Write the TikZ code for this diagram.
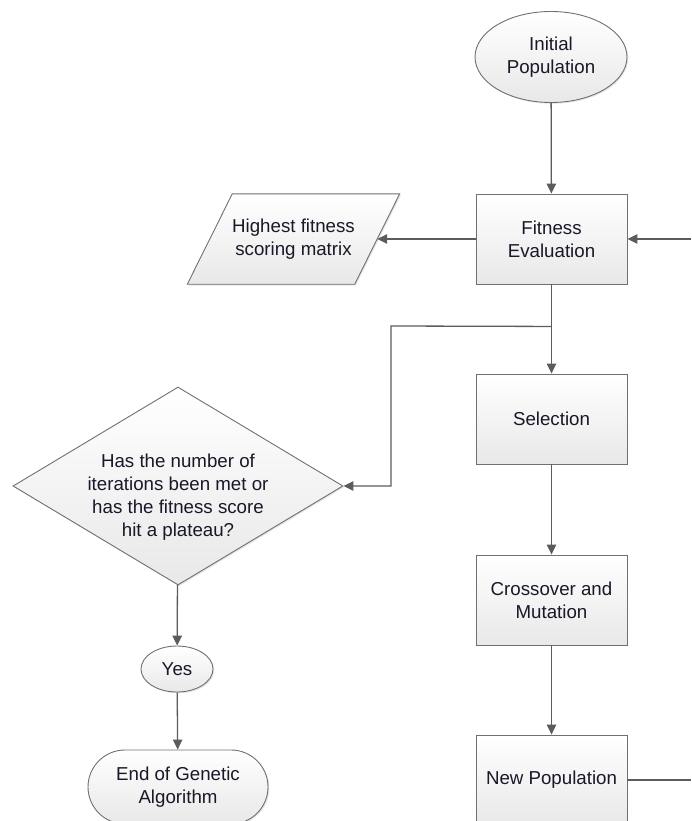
\documentclass[tikz,border=0pt]{standalone}
\usepackage{fontspec}
\setmainfont{Liberation Sans}
\usetikzlibrary{shapes.geometric,arrows.meta,shadows,backgrounds,calc}
\definecolor{edgegray}{RGB}{112,112,112}
\definecolor{linegray}{RGB}{92,92,92}
\definecolor{txt}{RGB}{24,24,40}
\tikzset{
  lbl/.style={text=txt, font=\fontsize{18.7}{23}\selectfont, align=center},
  base/.style={lbl, draw=edgegray, line width=0.9pt, top color=white, bottom color=black!9,
    inner sep=0pt, drop shadow={shadow xshift=1.3pt, shadow yshift=-1.3pt, opacity=0.2}},
  procbox/.style={base, rectangle, minimum width=151pt, minimum height=90pt},
  oval/.style={base, ellipse},
  flow/.style={draw=linegray, line width=1.3pt, -{Triangle[length=10pt,width=9.5pt]}},
  plain/.style={draw=linegray, line width=1.3pt},
}
\begin{document}
\begin{tikzpicture}[x=1pt,y=-1pt]
\path[use as bounding box] (0,0) rectangle (691,821);
\clip (0,0) rectangle (691,821);

% main loop column
\node[oval, minimum width=152pt, minimum height=91pt] (init) at (551,57) {Initial\\Population};
\node[procbox] (fit) at (551.5,239) {Fitness\\Evaluation};
\node[procbox] (sel) at (551.5,419) {Selection};
\node[procbox] (cm) at (551.5,600) {Crossover and\\Mutation};
\node[procbox] (np) at (551.5,780) {New Population};

% output of the best scores
\node[lbl, minimum width=167pt, minimum height=90pt, inner sep=0pt] (hfs) at (293.5,239) {Highest fitness\\scoring matrix};
\begin{scope}[on background layer]
  \path[draw=edgegray, line width=0.9pt, top color=white, bottom color=black!9,
        drop shadow={shadow xshift=1.3pt, shadow yshift=-1.3pt, opacity=0.2}]
    ([xshift=-22.5pt]hfs.south west) -- ([xshift=-22.5pt]hfs.south east)
    -- ([xshift=22.5pt]hfs.north east) -- ([xshift=22.5pt]hfs.north west) -- cycle;
\end{scope}

% termination test
\node[base, diamond, minimum width=330pt, minimum height=198pt] (dec) at (178,486) {};
\node[lbl, inner sep=0pt] (dectext) at ($(dec.center)+(0,11)$)
  {Has the number of\\iterations been met or\\has the fitness score\\hit a plateau?};
\node[oval, minimum width=72pt, minimum height=46pt] (yes) at (177,669) {Yes};
\node[base, rectangle, rounded corners=37pt, minimum width=180pt, minimum height=74pt] (fin) at (178,787) {End of Genetic\\Algorithm};

% connectors
\coordinate (inR) at (691,239);
\coordinate (outR) at (691,780);
\coordinate (br) at ($(fit.south)+(0,42)$);
\coordinate (bend) at (391,326);

\draw[flow] (init) -- (fit);
\draw[flow] (fit.west) -- (hfs.east);
\draw[flow] (inR) -- (fit.east);
\draw[flow] (fit) -- (sel);
\draw[flow] (br) -- (bend) |- (dec.east);
\draw[flow] (sel) -- (cm);
\draw[flow] (cm) -- (np);
\draw[plain] (np.east) -- (outR);
\draw[flow] (dec) -- (yes);
\draw[flow] (yes) -- (fin);
\end{tikzpicture}
\end{document}
